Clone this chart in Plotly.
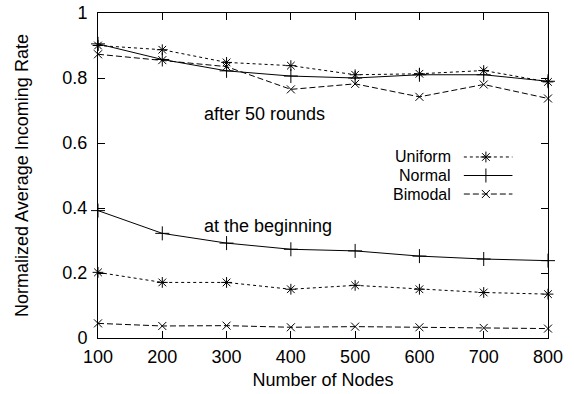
import plotly.graph_objects as go

nodes = [100, 200, 300, 400, 500, 600, 700, 800]

# after 50 rounds
uniform_after = [0.900, 0.887, 0.848, 0.838, 0.810, 0.813, 0.823, 0.788]
normal_after = [0.905, 0.857, 0.822, 0.806, 0.800, 0.810, 0.810, 0.790]
bimodal_after = [0.873, 0.855, 0.835, 0.765, 0.782, 0.742, 0.780, 0.737]

# at the beginning
uniform_begin = [0.202, 0.171, 0.171, 0.150, 0.162, 0.150, 0.140, 0.135]
normal_begin = [0.392, 0.322, 0.292, 0.273, 0.268, 0.252, 0.243, 0.238]
bimodal_begin = [0.045, 0.037, 0.038, 0.033, 0.035, 0.033, 0.031, 0.029]

series_names = ["Uniform", "Normal", "Bimodal"]
x_ticks = [100, 200, 300, 400, 500, 600, 700, 800]
y_ticks = [0, 0.2, 0.4, 0.6, 0.8, 1]
y_tick_labels = ["0", "0.2", "0.4", "0.6", "0.8", "1"]

FONT = "Liberation Sans, Arial, Helvetica, sans-serif"
FS = 18
LEG_FS = 16
styles = {
    "Uniform": dict(dash="3px,3px", symbol="asterisk-open", size=9),
    "Normal": dict(dash="solid", symbol="cross-thin-open", size=10),
    "Bimodal": dict(dash="6px,3px", symbol="x-thin-open", size=8),
}

fig = go.Figure()
data = {
    "Uniform": [uniform_after, uniform_begin],
    "Normal": [normal_after, normal_begin],
    "Bimodal": [bimodal_after, bimodal_begin],
}
for name in series_names:
    st = styles[name]
    for ys in data[name]:
        fig.add_trace(go.Scatter(
            x=nodes, y=ys, mode="lines+markers", name=name, showlegend=False,
            line=dict(color="black", width=1, dash=st["dash"]),
            marker=dict(symbol=st["symbol"], size=st["size"], color="black",
                        line=dict(color="black", width=1)),
            cliponaxis=False,
        ))

# custom gnuplot-style legend (text left, sample right) on an overlay axis
legend_rows = [0.557, 0.500, 0.443]
for name, yr in zip(series_names, legend_rows):
    st = styles[name]
    fig.add_trace(go.Scatter(
        x=[0.813, 0.921], y=[yr, yr], mode="lines", xaxis="x2", yaxis="y2",
        line=dict(color="black", width=1, dash=st["dash"]), showlegend=False,
        hoverinfo="skip"))
    fig.add_trace(go.Scatter(
        x=[0.862], y=[yr], mode="markers", xaxis="x2", yaxis="y2",
        marker=dict(symbol=st["symbol"], size=st["size"], color="black",
                    line=dict(color="black", width=1)),
        showlegend=False, hoverinfo="skip"))
    fig.add_annotation(x=0.786, y=yr, xref="x2", yref="y2", text=name,
                       showarrow=False, xanchor="right", yanchor="middle",
                       borderpad=0,
                       font=dict(family=FONT, size=LEG_FS, color="black"))

fig.add_annotation(x=261, y=0.690, text="after 50 rounds", showarrow=False,
                   xanchor="left", yanchor="middle",
                   font=dict(family=FONT, size=FS, color="black"))
fig.add_annotation(x=261, y=0.345, text="at the beginning", showarrow=False,
                   xanchor="left", yanchor="middle",
                   font=dict(family=FONT, size=FS, color="black"))

axis_common = dict(showgrid=False, zeroline=False, showline=True, linecolor="black",
                   linewidth=1, mirror="allticks", ticks="inside", ticklen=7,
                   tickcolor="black", tickwidth=1,
                   tickfont=dict(family=FONT, size=FS, color="black"))

fig.update_layout(
    width=574, height=394,
    margin=dict(l=98, r=26, t=13, b=56, autoexpand=False),
    paper_bgcolor="white", plot_bgcolor="white",
    showlegend=False,
    xaxis=dict(range=[100, 800], tickvals=x_ticks, ticklabelstandoff=2,
               title=dict(text="Number of Nodes", standoff=7,
                          font=dict(family=FONT, size=FS, color="black")),
               **axis_common),
    yaxis=dict(range=[0, 1], tickvals=y_ticks, ticktext=y_tick_labels,
               ticklabelstandoff=6,
               title=dict(text="Normalized Average Incoming Rate", standoff=29,
                          font=dict(family=FONT, size=FS, color="black")),
               **axis_common),
    xaxis2=dict(range=[0, 1], overlaying="x", visible=False, fixedrange=True),
    yaxis2=dict(range=[0, 1], overlaying="y", visible=False, fixedrange=True),
)

fig.write_html("out.html", config={"responsive": False, "displayModeBar": False},
               post_script="document.body.style.margin='0';document.body.style.overflow='hidden';")
